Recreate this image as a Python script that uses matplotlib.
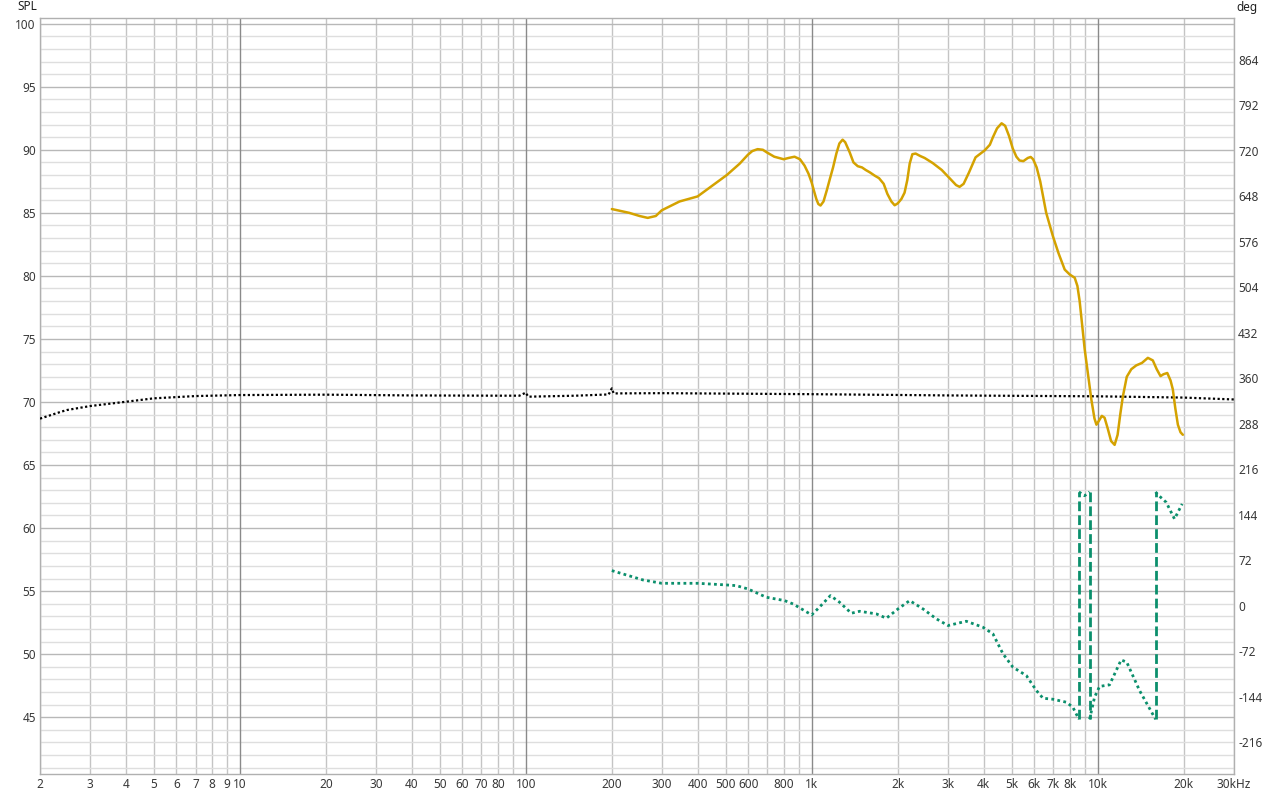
import numpy as np
import matplotlib
matplotlib.use("Agg")
import matplotlib.pyplot as plt
from matplotlib.ticker import FixedLocator, NullFormatter

plt.rcParams['font.family'] = ['Noto Sans', 'DejaVu Sans']
plt.rcParams['axes.unicode_minus'] = False

# --- data ---
# SPL magnitude (left axis, dB)
spl_f = [200, 230, 250, 267, 285, 299, 345, 399, 452, 505, 560, 598, 620, 647, 675,
         696, 740, 798, 830, 871, 910, 944, 975, 1000, 1020, 1038, 1055, 1074,
         1100, 1130, 1155, 1188, 1220, 1250, 1283, 1310, 1358, 1400, 1449, 1500,
         1545, 1600, 1661, 1720, 1786, 1840, 1900, 1951, 2000, 2060, 2113, 2160,
         2202, 2250, 2310, 2400, 2484, 2650, 2850, 3050, 3200, 3291, 3400, 3550,
         3743, 4027, 4200, 4305, 4450, 4616, 4750, 4900, 5050, 5200, 5333, 5500,
         5700, 5834, 5950, 6122, 6300, 6611, 6977, 7300, 7674, 8000, 8318, 8500,
         8655, 9015, 9510, 9750, 9909, 10100, 10350, 10580, 10850, 11150, 11470,
         11750, 12000, 12250, 12650, 13120, 13650, 14300, 14990, 15600, 16100,
         16600, 17000, 17530, 18000, 18330, 18700, 19090, 19500, 19870]
spl_db = [85.3, 85.0, 84.75, 84.6, 84.75, 85.2, 85.9, 86.3, 87.2, 88.0, 88.9,
          89.6, 89.9, 90.05, 90.0, 89.8, 89.45, 89.25, 89.35, 89.45, 89.25, 88.75,
          88.1, 87.4, 86.7, 86.1, 85.7, 85.58, 85.9, 86.8, 87.6, 88.6, 89.7,
          90.5, 90.8, 90.6, 89.8, 89.0, 88.7, 88.6, 88.4, 88.2, 87.95, 87.75,
          87.3, 86.5, 85.9, 85.6, 85.75, 86.1, 86.6, 87.6, 88.9, 89.65, 89.7,
          89.5, 89.35, 88.95, 88.4, 87.7, 87.2, 87.06, 87.3, 88.2, 89.4, 89.95,
          90.4, 91.0, 91.7, 92.1, 91.9, 91.1, 90.1, 89.45, 89.15, 89.1, 89.35,
          89.43, 89.25, 88.6, 87.5, 85.0, 83.15, 81.8, 80.5, 80.1, 79.85, 79.2,
          78.0, 74.17, 70.2, 68.7, 68.2, 68.5, 68.9, 68.75, 67.9, 66.9, 66.6,
          67.4, 69.0, 70.4, 72.0, 72.6, 72.9, 73.1, 73.5, 73.3, 72.6, 72.05, 72.2,
          72.3, 71.7, 71.0, 69.5, 68.2, 67.6, 67.4]

# black dotted trace (left axis, dB)
ref_f = [2, 2.35, 2.48, 3, 4, 5, 7, 10, 20, 40, 80, 95, 100, 102, 150, 195, 200,
         203, 300, 1000, 3000, 10000, 20000, 30000]
ref_db = [68.68, 69.2, 69.36, 69.68, 70.02, 70.29, 70.47, 70.55, 70.58, 70.52,
          70.5, 70.5, 70.74, 70.42, 70.5, 70.6, 71.08, 70.68, 70.7, 70.62, 70.52,
          70.45, 70.35, 70.2]

# phase (right axis, degrees), wrapped segments
ph1_f = [200, 257, 299, 399, 503, 545, 598, 694, 804, 861, 1000, 1064, 1163,
         1252, 1376, 1472, 1684, 1825, 2004, 2202, 2451, 2730, 2998, 3474, 3972,
         4305, 4668, 5058, 5633, 6109, 6442, 6977, 7774, 8195, 8604]
ph1_deg = [55.4, 40.6, 35.3, 35.3, 32.7, 31.6, 26.4, 13.2, 7.9, 2.6, -14.8, -2.6,
           15.8, 5.3, -12.1, -9, -13.2, -20, -5.3, 7.9, -5.3, -21, -31.6, -24.8,
           -34.3, -44.8, -76.4, -97.6, -110.8, -134.5, -146.7, -148.3, -153,
           -161, -180]
ph2_f = [8604, 9005, 9376]
ph2_deg = [180, 174, 180]
ph3_f = [9376, 9760, 10160, 11010, 12090, 12650, 14020, 15950]
ph3_deg = [-180, -145, -128, -125.5, -86, -89.7, -134.5, -180]
ph4_f = [15950, 16250, 17380, 18580, 19760]
ph4_deg = [180, 175.6, 163.5, 137.2, 161]
phase_segs = [(ph1_f, ph1_deg), (ph2_f, ph2_deg), (ph3_f, ph3_deg), (ph4_f, ph4_deg)]

x_ticks = [2, 3, 4, 5, 6, 7, 8, 9, 10, 20, 30, 40, 50, 60, 70, 80, 100, 200, 300,
           400, 500, 600, 800, 1000, 2000, 3000, 4000, 5000, 6000, 7000, 8000,
           10000, 20000, 30000]
x_labels = ['2', '3', '4', '5', '6', '7', '8', '9', '10', '20', '30', '40', '50',
            '60', '70', '80', '100', '200', '300', '400', '500', '600', '800', '1k',
            '2k', '3k', '4k', '5k', '6k', '7k', '8k', '10k', '20k', '30kHz']
spl_ticks = [45, 50, 55, 60, 65, 70, 75, 80, 85, 90, 95, 100]
deg_ticks = [-216, -144, -72, 0, 72, 144, 216, 288, 360, 432, 504, 576, 648, 720, 792, 864]

gold = '#d4a200'
green = '#0b8f6c'
txt = '#383838'

fig = plt.figure(figsize=(12.86, 7.99), dpi=100)
ax = fig.add_axes([40 / 1286, 1 - 774 / 799, (1234 - 40) / 1286, (774 - 18) / 799])
ax.set_xscale('log')
ax.set_xlim(2, 30000)
ax.set_ylim(40.5, 100.45)

# grid
minor_f = [m * 10 ** d for d in range(0, 5) for m in range(2, 10) if 2 <= m * 10 ** d <= 30000]
for f in minor_f:
    ax.axvline(f, color='#c4c4c4', lw=1.0, zorder=0)
for f in [10, 100, 1000, 10000]:
    ax.axvline(f, color='#8a8a8a', lw=1.0, zorder=0.5)
for v in range(41, 101):
    ax.axhline(v, color='#b8b8b8' if v % 5 == 0 else '#dedede', lw=1.0,
               zorder=0.4 if v % 5 == 0 else 0.2)

ax.xaxis.set_major_locator(FixedLocator(x_ticks))
ax.xaxis.set_minor_locator(FixedLocator([]))
ax.xaxis.set_minor_formatter(NullFormatter())
ax.set_xticklabels(x_labels)
ax.set_yticks(spl_ticks)
ax.tick_params(axis='both', length=0, labelsize=8.5, colors=txt, pad=3)
for s in ax.spines.values():
    s.set_color('#b0b0b0')
    s.set_linewidth(1.0)

ax.plot(ref_f, ref_db, color='black', lw=1.6, linestyle=(0, (1, 1.1)), zorder=3)
ax.plot(spl_f, spl_db, color=gold, lw=1.8, zorder=4, solid_capstyle='round',
        solid_joinstyle='round')

ax2 = ax.twinx()
ax2.set_ylim(-266.7, 930.5)
ax2.set_yticks(deg_ticks)
ax2.tick_params(axis='y', length=0, labelsize=8.5, colors=txt, pad=3)
for s in ax2.spines.values():
    s.set_visible(False)

for f, d in phase_segs:
    ax2.plot(f, d, color=green, lw=2.0, linestyle=(0, (1, 1.2)), zorder=3)
for (fa, da), (fb, db) in zip(phase_segs[:-1], phase_segs[1:]):
    ax2.plot([fa[-1], fb[0]], [da[-1], db[0]], color=green, lw=2.0,
             linestyle=(0, (3.5, 1.5)), zorder=3)

fig.text(27 / 1286, 1 - 7 / 799, 'SPL', ha='center', va='center', fontsize=8.5,
         color='#202020')
fig.text(1247 / 1286, 1 - 7 / 799, 'deg', ha='center', va='center', fontsize=8.5,
         color='#202020')

fig.savefig('out.png', dpi=100)
